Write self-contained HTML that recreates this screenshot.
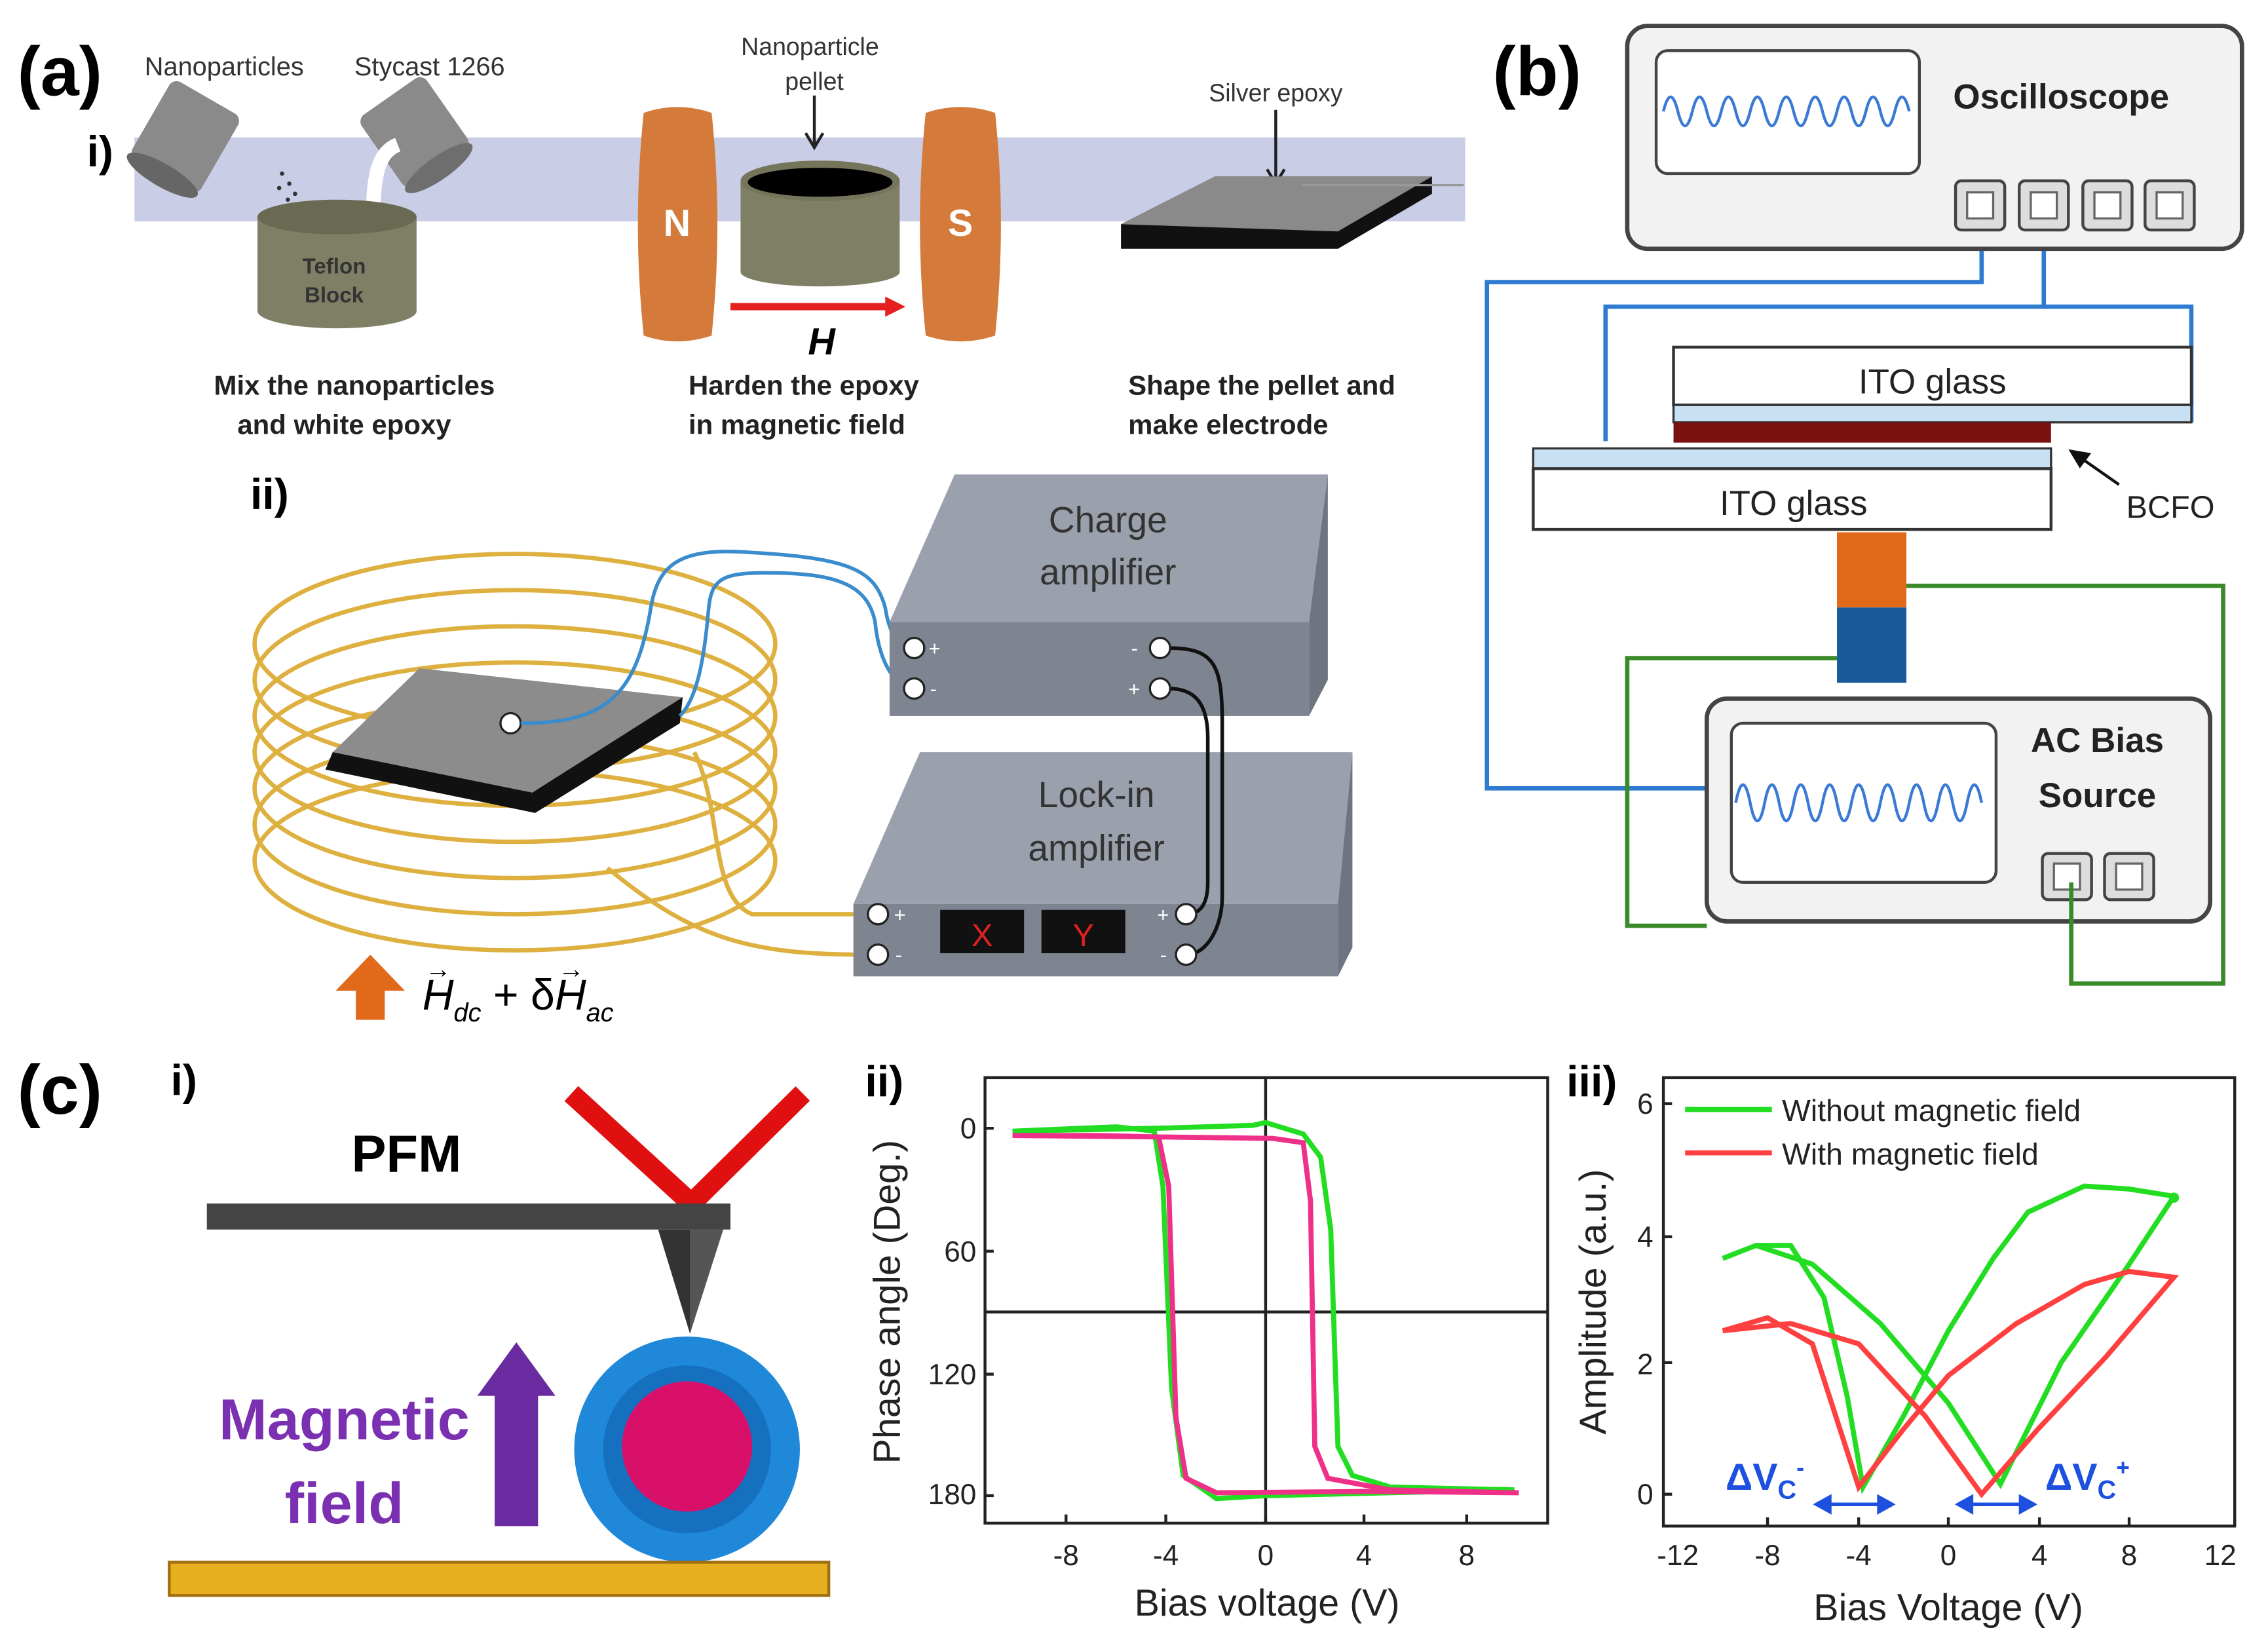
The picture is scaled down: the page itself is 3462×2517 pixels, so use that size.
<!DOCTYPE html>
<html><head><meta charset="utf-8"><style>
html,body{margin:0;padding:0;background:#fff;}
svg{display:block;}
text{font-family:"Liberation Sans",sans-serif;}
</style></head><body>
<svg width="3462" height="2517" viewBox="0 0 1568 1140" preserveAspectRatio="none" xmlns="http://www.w3.org/2000/svg">
<rect width="1568" height="1140" fill="#fff"/>
<!-- ===== (a) i ===== -->
<text x="12" y="66" font-size="48" font-weight="bold">(a)</text>
<text x="60" y="115" font-size="30" font-weight="bold">i)</text>
<rect x="93" y="95" width="920" height="58" fill="#c9cde6"/>
<text x="100" y="52" font-size="18" fill="#333">Nanoparticles</text>
<text x="245" y="52" font-size="18" fill="#333">Stycast 1266</text>
<text x="560" y="38" font-size="17" fill="#333" text-anchor="middle">Nanoparticle</text>
<text x="563" y="62" font-size="17" fill="#333" text-anchor="middle">pellet</text>
<path d="M563 66 V100" stroke="#222" stroke-width="2"/><path d="M557 92 L563 102 L569 92" fill="none" stroke="#222" stroke-width="2"/>
<text x="882" y="70" font-size="17" fill="#333" text-anchor="middle">Silver epoxy</text>
<path d="M882 76 V125" stroke="#222" stroke-width="2"/><path d="M876 117 L882 127 L888 117" fill="none" stroke="#222" stroke-width="2"/>
<g transform="rotate(30 125 95)"><rect x="100" y="62" width="55" height="62" rx="6" fill="#8a8a8a"/><ellipse cx="127" cy="124" rx="28" ry="8" fill="#666"/></g>
<g transform="rotate(-35 285 90)"><rect x="258" y="62" width="55" height="60" rx="6" fill="#8a8a8a"/><ellipse cx="285" cy="122" rx="28" ry="8" fill="#6e6e6e"/></g>
<path d="M258 150 C258 120 262 105 275 100" stroke="#fff" stroke-width="10" fill="none"/>
<g fill="#333"><circle cx="195" cy="120" r="1.5"/><circle cx="200" cy="127" r="1.5"/><circle cx="204" cy="134" r="1.5"/><circle cx="208" cy="141" r="1.5"/><circle cx="212" cy="148" r="1.5"/><circle cx="193" cy="130" r="1.5"/><circle cx="199" cy="138" r="1.5"/><circle cx="206" cy="146" r="1.5"/><circle cx="215" cy="152" r="1.5"/></g>
<path d="M178 150 V215 A55 12 0 0 0 288 215 V150 Z" fill="#7f7f66"/>
<ellipse cx="233" cy="150" rx="55" ry="12" fill="#6a6a52"/>
<text x="231" y="189" font-size="15" font-weight="bold" fill="#333" text-anchor="middle">Teflon</text>
<text x="231" y="209" font-size="15" font-weight="bold" fill="#333" text-anchor="middle">Block</text>
<path d="M445 78 Q468 70 492 78 Q500 155 492 232 Q468 240 445 232 Q437 155 445 78Z" fill="#d47a3a"/>
<path d="M640 78 Q664 70 688 78 Q696 155 688 232 Q664 240 640 232 Q632 155 640 78Z" fill="#d47a3a"/>
<text x="468" y="163" font-size="26" font-weight="bold" fill="#fff" text-anchor="middle">N</text>
<text x="664" y="163" font-size="26" font-weight="bold" fill="#fff" text-anchor="middle">S</text>
<path d="M512 125 V188 A55 10 0 0 0 622 188 V125Z" fill="#7f7f66"/>
<ellipse cx="567" cy="125" rx="55" ry="14" fill="#75755c"/><ellipse cx="567" cy="126" rx="50" ry="10" fill="#000"/>
<path d="M505 212 H615" stroke="#e52020" stroke-width="5"/><path d="M612 205 L626 212 L612 219Z" fill="#e52020"/>
<text x="568" y="245" font-size="26" font-weight="bold" font-style="italic" text-anchor="middle">H</text>
<path d="M775 155 L840 122 L990 122 L990 134 L925 172 L775 172Z" fill="#111"/>
<path d="M775 155 L840 122 L990 122 L925 160 Z" fill="#8a8a8a"/>
<path d="M900 128 L1012 128" stroke="#999" stroke-width="1.5"/>
<g font-size="19" font-weight="bold" fill="#222">
<text x="245" y="273" text-anchor="middle">Mix the nanoparticles</text>
<text x="238" y="300" text-anchor="middle">and white epoxy</text>
<text x="476" y="273">Harden the epoxy</text>
<text x="476" y="300">in magnetic field</text>
<text x="780" y="273">Shape the pellet and</text>
<text x="780" y="300">make electrode</text>
</g>
<!-- ===== (a) ii ===== -->
<text x="173" y="352" font-size="30" font-weight="bold">ii)</text>
<g fill="none" stroke="#deb040" stroke-width="3">
<ellipse cx="356" cy="445" rx="180" ry="62"/><ellipse cx="356" cy="470" rx="180" ry="62"/><ellipse cx="356" cy="495" rx="180" ry="62"/><ellipse cx="356" cy="520" rx="180" ry="62"/><ellipse cx="356" cy="545" rx="180" ry="62"/><ellipse cx="356" cy="570" rx="180" ry="62"/><ellipse cx="356" cy="595" rx="180" ry="62"/>
</g>
<path d="M225 532 L230 520 L472 482 L470 500 L370 562 Z" fill="#111"/>
<path d="M230 520 L290 462 L472 482 L368 548 Z" fill="#8c8c8c"/>
<circle cx="353" cy="500" r="7" fill="#fff" stroke="#222" stroke-width="1.5"/>
<path d="M360 500 C420 500 440 480 450 420 C455 390 470 378 520 382 C590 386 605 395 612 420 C615 440 622 448 632 448" fill="none" stroke="#3a8ccc" stroke-width="2.5"/>
<path d="M470 495 C485 480 488 440 490 420 C492 400 500 396 530 396 C580 396 600 405 605 430 C608 460 620 476 632 476" fill="none" stroke="#3a8ccc" stroke-width="2.5"/>
<path d="M480 520 C500 560 490 620 520 632 L600 632" fill="none" stroke="#deb040" stroke-width="3"/>
<path d="M420 600 C480 650 520 660 600 660" fill="none" stroke="#deb040" stroke-width="3"/>
<path d="M615 430 L660 328 L918 328 L905 430Z" fill="#9aa0ac"/>
<path d="M905 430 L918 328 L918 470 L905 495Z" fill="#6e7480"/>
<rect x="615" y="430" width="290" height="65" fill="#7e8490"/>
<text x="766" y="368" font-size="25" fill="#333" text-anchor="middle">Charge</text>
<text x="766" y="404" font-size="25" fill="#333" text-anchor="middle">amplifier</text>
<path d="M590 625 L636 520 L935 520 L925 625Z" fill="#9aa0ac"/>
<path d="M925 625 L935 520 L935 655 L925 675Z" fill="#6e7480"/>
<rect x="590" y="625" width="335" height="50" fill="#7e8490"/>
<text x="758" y="558" font-size="25" fill="#333" text-anchor="middle">Lock-in</text>
<text x="758" y="595" font-size="25" fill="#333" text-anchor="middle">amplifier</text>
<rect x="650" y="629" width="58" height="30" fill="#111"/><rect x="720" y="629" width="58" height="30" fill="#111"/>
<text x="679" y="654" font-size="22" fill="#d22" text-anchor="middle">X</text><text x="749" y="654" font-size="22" fill="#d22" text-anchor="middle">Y</text>
<path d="M808 448 C840 448 845 460 845 500 L845 620 C845 640 835 660 820 660" fill="none" stroke="#111" stroke-width="2.5"/>
<path d="M808 476 C825 476 835 485 835 510 L835 610 C835 625 830 632 820 632" fill="none" stroke="#111" stroke-width="2.5"/>
<g fill="#fff" stroke="#222" stroke-width="1.5">
<circle cx="632" cy="448" r="7"/><circle cx="632" cy="476" r="7"/><circle cx="802" cy="448" r="7"/><circle cx="802" cy="476" r="7"/>
<circle cx="607" cy="632" r="7"/><circle cx="607" cy="660" r="7"/><circle cx="820" cy="632" r="7"/><circle cx="820" cy="660" r="7"/>
</g>
<g font-size="14" fill="#fff"><text x="642" y="453">+</text><text x="643" y="481">-</text><text x="782" y="453">-</text><text x="780" y="481">+</text>
<text x="618" y="637">+</text><text x="619" y="665">-</text><text x="800" y="637">+</text><text x="802" y="665">-</text></g>
<path d="M246 705 V685 H232 L256 660 L280 685 H266 V705Z" fill="#e06a1a"/>
<text x="292" y="698" font-size="30" font-style="italic" font-family="Liberation Serif,serif">H<tspan font-size="18" dy="8">dc</tspan><tspan dy="-8" font-style="normal"> + δ</tspan>H<tspan font-size="18" dy="8">ac</tspan></text>
<text x="294" y="676" font-size="18" font-family="Liberation Serif,serif">→</text>
<text x="386" y="676" font-size="18" font-family="Liberation Serif,serif">→</text>
<!-- ===== (b) ===== -->
<text x="1032" y="66" font-size="48" font-weight="bold">(b)</text>
<g fill="none" stroke-width="3">
<path d="M1370 160 V195 H1028 V545 H1180" stroke="#2e7bd0"/>
<path d="M1413 160 V212 H1110 V305 M1110 212 H1515 V292" stroke="#2e7bd0"/>
<path d="M1318 405 H1537 V680 H1432 V615" stroke="#3a8a2a"/>
<path d="M1270 455 H1125 V640 H1180" stroke="#3a8a2a"/>
</g>
<rect x="1125" y="18" width="425" height="154" rx="14" fill="#f2f2f2" stroke="#444" stroke-width="3"/>
<rect x="1145" y="35" width="182" height="85" rx="8" fill="#fff" stroke="#444" stroke-width="2"/>
<path d="M1150 77 q5 -20 10 0 t10 0 t10 0 t10 0 t10 0 t10 0 t10 0 t10 0 t10 0 t10 0 t10 0 t10 0 t10 0 t10 0 t10 0 t10 0 t10 0" fill="none" stroke="#3a7ad5" stroke-width="2"/>
<text x="1425" y="75" font-size="24" font-weight="bold" text-anchor="middle" fill="#222">Oscilloscope</text>
<g fill="#ddd" stroke="#444" stroke-width="2">
<rect x="1352" y="125" width="34" height="34" rx="4"/><rect x="1396" y="125" width="34" height="34" rx="4"/><rect x="1440" y="125" width="34" height="34" rx="4"/><rect x="1483" y="125" width="34" height="34" rx="4"/>
</g>
<g fill="#fff" stroke="#666" stroke-width="1.5"><rect x="1360" y="133" width="18" height="18"/><rect x="1404" y="133" width="18" height="18"/><rect x="1448" y="133" width="18" height="18"/><rect x="1491" y="133" width="18" height="18"/></g>
<rect x="1157" y="240" width="358" height="40" fill="#fff" stroke="#333" stroke-width="2"/>
<rect x="1157" y="280" width="358" height="12" fill="#c8e0f4" stroke="#333" stroke-width="1.5"/>
<rect x="1157" y="292" width="261" height="14" fill="#7a1010"/>
<rect x="1060" y="310" width="358" height="14" fill="#c8e0f4" stroke="#333" stroke-width="1.5"/>
<rect x="1060" y="324" width="358" height="42" fill="#fff" stroke="#333" stroke-width="2"/>
<text x="1336" y="272" font-size="24" text-anchor="middle" fill="#222">ITO glass</text>
<text x="1240" y="356" font-size="24" text-anchor="middle" fill="#222">ITO glass</text>
<text x="1470" y="358" font-size="22" fill="#222">BCFO</text>
<path d="M1465 335 L1432 312" stroke="#111" stroke-width="2"/><path d="M1432 312 L1444 314 L1438 322Z" fill="#111" stroke="#111" stroke-width="2"/>
<rect x="1270" y="368" width="48" height="52" fill="#e06a1a"/>
<rect x="1270" y="420" width="48" height="52" fill="#1a5a9a"/>
<rect x="1180" y="483" width="348" height="154" rx="14" fill="#f2f2f2" stroke="#444" stroke-width="3"/>
<rect x="1197" y="500" width="183" height="110" rx="8" fill="#fff" stroke="#444" stroke-width="2"/>
<path d="M1200 555 q5 -25 10 0 t10 0 t10 0 t10 0 t10 0 t10 0 t10 0 t10 0 t10 0 t10 0 t10 0 t10 0 t10 0 t10 0 t10 0 t10 0 t10 0" fill="none" stroke="#3a7ad5" stroke-width="2"/>
<text x="1450" y="520" font-size="24" font-weight="bold" text-anchor="middle" fill="#222">AC Bias</text>
<text x="1450" y="558" font-size="24" font-weight="bold" text-anchor="middle" fill="#222">Source</text>
<g fill="#ddd" stroke="#444" stroke-width="2"><rect x="1412" y="590" width="34" height="32" rx="4"/><rect x="1455" y="590" width="34" height="32" rx="4"/></g>
<g fill="#fff" stroke="#666" stroke-width="1.5"><rect x="1420" y="597" width="18" height="18"/><rect x="1463" y="597" width="18" height="18"/></g>
<path d="M1432 680 V610" stroke="#3a8a2a" stroke-width="3"/>
<!-- ===== (c) i ===== -->
<text x="12" y="770" font-size="48" font-weight="bold">(c)</text>
<text x="118" y="757" font-size="30" font-weight="bold">i)</text>
<text x="281" y="810" font-size="36" font-weight="bold" text-anchor="middle">PFM</text>
<path d="M395 756 L478 832 L555 756" fill="none" stroke="#e01010" stroke-width="14"/>
<rect x="143" y="832" width="362" height="18" fill="#444"/>
<path d="M455 850 L500 850 L477 922Z" fill="#333"/><path d="M477 850 L500 850 L477 922Z" fill="#555"/>
<circle cx="475" cy="1002" r="78" fill="#1f88d8"/>
<circle cx="475" cy="1002" r="58" fill="#1570c0"/>
<circle cx="475" cy="1000" r="45" fill="#d8106a"/>
<path d="M342 1055 V965 H330 L357 928 L384 965 H372 V1055Z" fill="#6a2aa0"/>
<text x="238" y="995" font-size="40" font-weight="bold" fill="#7a30b0" text-anchor="middle">Magnetic</text>
<text x="238" y="1053" font-size="40" font-weight="bold" fill="#7a30b0" text-anchor="middle">field</text>
<rect x="117" y="1080" width="456" height="23" fill="#e8b020" stroke="#a07010" stroke-width="2"/>
<!-- ===== (c) ii ===== -->
<text x="598" y="758" font-size="30" font-weight="bold">ii)</text>
<rect x="681" y="745" width="389" height="308" fill="none" stroke="#222" stroke-width="2"/>
<path d="M875 745 V1053 M681 907 H1070" stroke="#222" stroke-width="2"/>
<g font-size="20" fill="#222" text-anchor="end"><text x="675" y="787">0</text><text x="675" y="872">60</text><text x="675" y="957">120</text><text x="675" y="1040">180</text></g>
<g font-size="20" fill="#222" text-anchor="middle"><text x="737" y="1082">-8</text><text x="806" y="1082">-4</text><text x="875" y="1082">0</text><text x="943" y="1082">4</text><text x="1014" y="1082">8</text></g>
<g stroke="#222" stroke-width="2"><path d="M737 1053 v-6 M806 1053 v-6 M875 1053 v-6 M943 1053 v-6 M1014 1053 v-6 M681 780 h6 M681 865 h6 M681 950 h6 M681 1034 h6"/></g>
<text x="876" y="1117" font-size="26" fill="#222" text-anchor="middle">Bias voltage (V)</text>
<text transform="translate(622 900) rotate(-90)" font-size="26" fill="#222" text-anchor="middle">Phase angle (Deg.)</text>
<polyline fill="none" stroke="#22dd22" stroke-width="3.5" points="700,782 800,780 866,778 875,776 901,784 913,800 920,850 925,1000 935,1020 961,1028 1047,1030 960,1032 875,1034 841,1036 818,1020 810,960 804,820 798,782 772,779 700,782"/>
<polyline fill="none" stroke="#ee3088" stroke-width="3.5" points="700,785 800,786 880,787 901,790 906,830 909,1000 918,1022 961,1030 1050,1032 950,1031 841,1032 820,1022 813,980 808,820 801,786 760,785 700,785"/>
<!-- ===== (c) iii ===== -->
<text x="1083" y="758" font-size="30" font-weight="bold">iii)</text>
<rect x="1150" y="745" width="395" height="310" fill="none" stroke="#222" stroke-width="2"/>
<g font-size="20" fill="#222" text-anchor="end"><text x="1143" y="1040">0</text><text x="1143" y="950">2</text><text x="1143" y="862">4</text><text x="1143" y="770">6</text></g>
<g font-size="20" fill="#222" text-anchor="middle"><text x="1160" y="1082">-12</text><text x="1222" y="1082">-8</text><text x="1285" y="1082">-4</text><text x="1347" y="1082">0</text><text x="1410" y="1082">4</text><text x="1472" y="1082">8</text><text x="1535" y="1082">12</text></g>
<g stroke="#222" stroke-width="2"><path d="M1222 1055 v-6 M1285 1055 v-6 M1347 1055 v-6 M1410 1055 v-6 M1472 1055 v-6 M1150 1033 h6 M1150 942 h6 M1150 855 h6 M1150 763 h6"/></g>
<text x="1347" y="1120" font-size="26" fill="#222" text-anchor="middle">Bias Voltage (V)</text>
<text transform="translate(1110 900) rotate(-90)" font-size="26" fill="#222" text-anchor="middle">Amplitude (a.u.)</text>
<path d="M1165 767 H1225" stroke="#22dd22" stroke-width="3.5"/><text x="1232" y="775" font-size="21" fill="#222">Without magnetic field</text>
<path d="M1165 797 H1225" stroke="#ff4040" stroke-width="3.5"/><text x="1232" y="805" font-size="21" fill="#222">With magnetic field</text>
<polyline fill="none" stroke="#22dd22" stroke-width="3.5" points="1191,870 1214,861 1238,861 1261,897 1277,965 1288,1028 1316,979 1347,920 1378,870 1402,838 1441,820 1472,822 1503,827 1472,874 1425,942 1383,1026 1347,970 1300,915 1253,874 1214,861 1191,870"/>
<circle cx="1503" cy="828" r="3.5" fill="#22dd22"/>
<polyline fill="none" stroke="#ff4040" stroke-width="3.5" points="1191,920 1222,911 1253,929 1285,1028 1316,988 1347,951 1394,915 1441,888 1472,879 1503,883 1456,938 1409,988 1370,1033 1331,979 1285,929 1238,915 1191,920"/>
<g stroke="#1e50e0" stroke-width="2.5" fill="#1e50e0">
<path d="M1262 1040 H1302"/><path d="M1256 1040 L1265 1035 L1265 1045Z"/><path d="M1308 1040 L1299 1035 L1299 1045Z"/>
<path d="M1360 1040 H1400"/><path d="M1354 1040 L1363 1035 L1363 1045Z"/><path d="M1406 1040 L1397 1035 L1397 1045Z"/>
</g>
<text x="1193" y="1030" font-size="26" font-weight="bold" fill="#1e50e0">ΔV<tspan font-size="18" dy="6">C</tspan><tspan font-size="16" dy="-16">-</tspan></text>
<text x="1414" y="1030" font-size="26" font-weight="bold" fill="#1e50e0">ΔV<tspan font-size="18" dy="6">C</tspan><tspan font-size="16" dy="-16">+</tspan></text>
</svg>
</body></html>
